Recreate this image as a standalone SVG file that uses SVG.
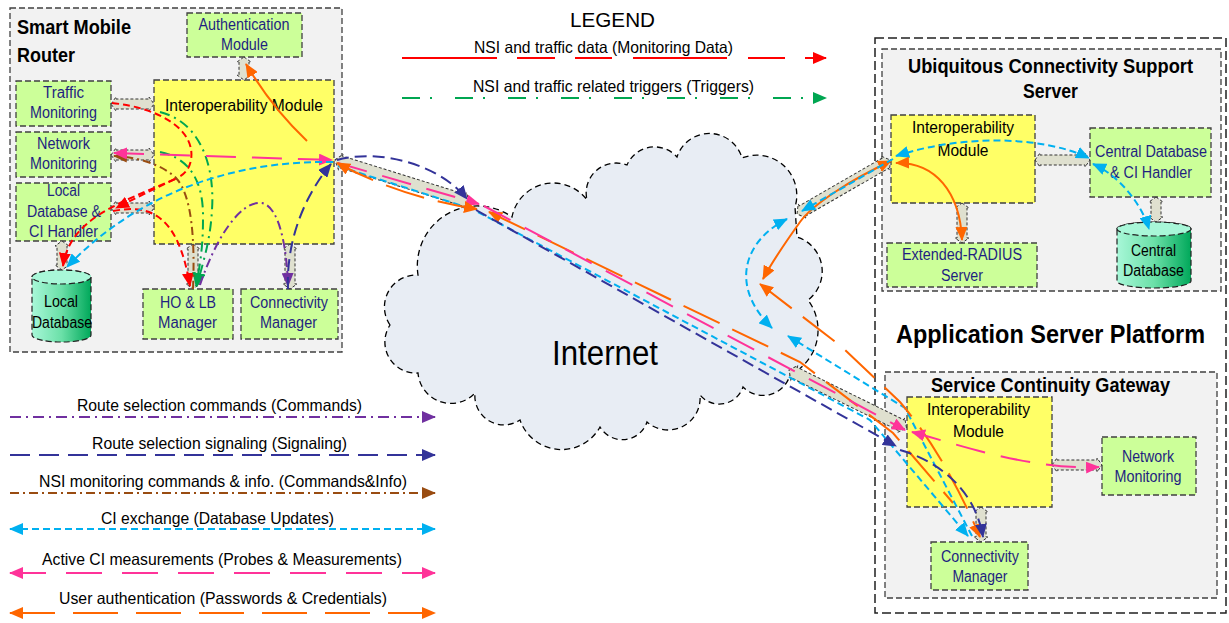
<svg xmlns="http://www.w3.org/2000/svg" width="1229" height="623" viewBox="0 0 1229 623">
<defs>
<style>
.frame{fill:#f2f2f2;stroke:#404040;stroke-width:1.3;stroke-dasharray:6 3}
.outer{fill:none;stroke:#202020;stroke-width:1.5;stroke-dasharray:9 4}
.mod{fill:#ccff99;stroke:#404040;stroke-width:1.3;stroke-dasharray:6 3}
.iop{fill:#ffff66;stroke:#404040;stroke-width:1.3;stroke-dasharray:6 3}
.db{stroke:#202020;stroke-width:1.2;stroke-dasharray:6 3}
.blk{fill:#dfe0cf;stroke:#333;stroke-width:1;stroke-dasharray:3 2}
.cloud{fill:#e8edf4;stroke:#000;stroke-width:1.3;stroke-dasharray:6 4}
text{font-family:"Liberation Sans",Arial,sans-serif}
.t{font-size:16px;fill:#1f1f80;text-anchor:middle}
.tk{font-size:16px;fill:#000;text-anchor:middle}
.ti{font-size:17px;fill:#000;text-anchor:middle}
.h{font-weight:bold;fill:#000;font-size:20px}
.lg{font-size:16.5px;fill:#000;text-anchor:middle}
.c{fill:none;stroke-width:2}
.red{stroke:#ff0000;stroke-dasharray:7 4}
.grn{stroke:#00a651;stroke-dasharray:10 5 2 5}
.pur{stroke:#7030a0;stroke-dasharray:9 4 2 4}
.nav{stroke:#333399;stroke-dasharray:12 6}
.brn{stroke:#994c11;stroke-dasharray:8 4 2 4}
.cyn{stroke:#00b0f0;stroke-dasharray:7 4}
.pnk{stroke:#ff3399;stroke-dasharray:30 16}
.org{stroke:#ff6600;stroke-dasharray:40 14}
.orgs{stroke:#ff6600}
</style>
<linearGradient id="cyl" x1="0" y1="0" x2="1" y2="0">
<stop offset="0" stop-color="#a8f7d8"/>
<stop offset="0.5" stop-color="#6be0a8"/>
<stop offset="1" stop-color="#00a85a"/>
</linearGradient>
<marker id="mr" viewBox="0 0 14 12" refX="13" refY="6" markerWidth="14" markerHeight="12" markerUnits="userSpaceOnUse" orient="auto-start-reverse"><path d="M0,0 L14,6 L0,12 Z" fill="#ff0000"/></marker>
<marker id="mg" viewBox="0 0 14 12" refX="13" refY="6" markerWidth="14" markerHeight="12" markerUnits="userSpaceOnUse" orient="auto-start-reverse"><path d="M0,0 L14,6 L0,12 Z" fill="#00a651"/></marker>
<marker id="mp" viewBox="0 0 14 12" refX="13" refY="6" markerWidth="14" markerHeight="12" markerUnits="userSpaceOnUse" orient="auto-start-reverse"><path d="M0,0 L14,6 L0,12 Z" fill="#7030a0"/></marker>
<marker id="mn" viewBox="0 0 14 12" refX="13" refY="6" markerWidth="14" markerHeight="12" markerUnits="userSpaceOnUse" orient="auto-start-reverse"><path d="M0,0 L14,6 L0,12 Z" fill="#333399"/></marker>
<marker id="mb" viewBox="0 0 14 12" refX="13" refY="6" markerWidth="14" markerHeight="12" markerUnits="userSpaceOnUse" orient="auto-start-reverse"><path d="M0,0 L14,6 L0,12 Z" fill="#994c11"/></marker>
<marker id="mc" viewBox="0 0 14 12" refX="13" refY="6" markerWidth="14" markerHeight="12" markerUnits="userSpaceOnUse" orient="auto-start-reverse"><path d="M0,0 L14,6 L0,12 Z" fill="#00b0f0"/></marker>
<marker id="mk" viewBox="0 0 14 12" refX="13" refY="6" markerWidth="14" markerHeight="12" markerUnits="userSpaceOnUse" orient="auto-start-reverse"><path d="M0,0 L14,6 L0,12 Z" fill="#ff3399"/></marker>
<marker id="mo" viewBox="0 0 14 12" refX="13" refY="6" markerWidth="14" markerHeight="12" markerUnits="userSpaceOnUse" orient="auto-start-reverse"><path d="M0,0 L14,6 L0,12 Z" fill="#ff6600"/></marker>
</defs>

<rect width="1229" height="623" fill="#ffffff"/>

<!-- Smart Mobile Router -->
<g id="smart-mobile-router">
<rect class="frame" x="10" y="8" width="332" height="344"/>
<text class="h" x="17" y="34" textLength="114" lengthAdjust="spacingAndGlyphs">Smart Mobile</text>
<text class="h" x="17" y="62" textLength="58" lengthAdjust="spacingAndGlyphs">Router</text>
</g>
<g id="smr-auth">
<rect class="mod" x="187" y="13" width="115" height="44"/>
<text class="t" x="244" y="30" textLength="91" lengthAdjust="spacingAndGlyphs">Authentication</text>
<text class="t" x="244.5" y="50" textLength="47" lengthAdjust="spacingAndGlyphs">Module</text>
</g>
<g id="smr-traffic">
<rect class="mod" x="16" y="81" width="95" height="45"/>
<text class="t" x="63.5" y="98" textLength="41" lengthAdjust="spacingAndGlyphs">Traffic</text>
<text class="t" x="63.5" y="118" textLength="67" lengthAdjust="spacingAndGlyphs">Monitoring</text>
</g>
<g id="smr-network">
<rect class="mod" x="16" y="132" width="95" height="45"/>
<text class="t" x="63.5" y="149" textLength="53" lengthAdjust="spacingAndGlyphs">Network</text>
<text class="t" x="63.5" y="169" textLength="67" lengthAdjust="spacingAndGlyphs">Monitoring</text>
</g>
<g id="smr-ldbh">
<rect class="mod" x="16" y="183" width="95" height="58"/>
<text class="t" x="63.5" y="196" textLength="33" lengthAdjust="spacingAndGlyphs">Local</text>
<text class="t" x="64" y="217" textLength="74" lengthAdjust="spacingAndGlyphs">Database &amp;</text>
<text class="t" x="63.5" y="237" textLength="69" lengthAdjust="spacingAndGlyphs">CI Handler</text>
</g>
<g id="smr-interop">
<rect class="iop" x="154" y="80" width="180" height="164"/>
<text class="ti" x="244" y="111" textLength="158" lengthAdjust="spacingAndGlyphs">Interoperability Module</text>
</g>
<g id="smr-localdb">
<path class="db" fill="url(#cyl)" d="M32 277 A29.5 7 0 0 1 91 277 L91 335 A29.5 7 0 0 1 32 335 Z"/>
<ellipse class="db" cx="61.5" cy="277" rx="29.5" ry="7" fill="#a8f7d8"/>
<text class="tk" x="61" y="307" textLength="34" lengthAdjust="spacingAndGlyphs">Local</text>
<text class="tk" x="62" y="328" textLength="60" lengthAdjust="spacingAndGlyphs">Database</text>
</g>
<g id="smr-holb">
<rect class="mod" x="143" y="289" width="90" height="50"/>
<text class="t" x="188" y="308" textLength="56" lengthAdjust="spacingAndGlyphs">HO &amp; LB</text>
<text class="t" x="187.5" y="328" textLength="59" lengthAdjust="spacingAndGlyphs">Manager</text>
</g>
<g id="smr-connmgr">
<rect class="mod" x="241" y="289" width="97" height="50"/>
<text class="t" x="289" y="308" textLength="78" lengthAdjust="spacingAndGlyphs">Connectivity</text>
<text class="t" x="288.5" y="328" textLength="57" lengthAdjust="spacingAndGlyphs">Manager</text>
</g>

<!-- Application Server Platform -->
<g id="app-server-platform">
<rect class="outer" x="875" y="38" width="351" height="575"/>
<text class="h" x="1050.5" y="343" font-size="25" style="font-size:25px" text-anchor="middle" textLength="309" lengthAdjust="spacingAndGlyphs">Application Server Platform</text>
</g>
<g id="ucss">
<rect class="frame" x="882" y="49" width="339" height="242"/>
<text class="h" x="1050.5" y="73" text-anchor="middle" textLength="285" lengthAdjust="spacingAndGlyphs">Ubiquitous Connectivity Support</text>
<text class="h" x="1050.5" y="98" text-anchor="middle" textLength="55" lengthAdjust="spacingAndGlyphs">Server</text>
</g>
<g id="ucss-interop">
<rect class="iop" x="891" y="115" width="144" height="88"/>
<text class="ti" x="963" y="133" textLength="102" lengthAdjust="spacingAndGlyphs">Interoperability</text>
<text class="ti" x="963" y="156" textLength="51" lengthAdjust="spacingAndGlyphs">Module</text>
</g>
<g id="ucss-cdbh">
<rect class="mod" x="1090" y="128" width="121" height="69"/>
<text class="t" x="1151" y="157" textLength="112" lengthAdjust="spacingAndGlyphs">Central Database</text>
<text class="t" x="1151" y="178" textLength="82" lengthAdjust="spacingAndGlyphs">&amp; CI Handler</text>
</g>
<g id="ucss-radius">
<rect class="mod" x="887" y="243" width="150" height="44"/>
<text class="t" x="962" y="260" textLength="120" lengthAdjust="spacingAndGlyphs">Extended-RADIUS</text>
<text class="t" x="962" y="281" textLength="42" lengthAdjust="spacingAndGlyphs">Server</text>
</g>
<g id="ucss-centraldb">
<path class="db" fill="url(#cyl)" d="M1117 229 A37 7 0 0 1 1191 229 L1191 281 A37 7 0 0 1 1117 281 Z"/>
<ellipse class="db" cx="1154" cy="229" rx="37" ry="7" fill="#a8f7d8"/>
<text class="tk" x="1153.5" y="256" textLength="45" lengthAdjust="spacingAndGlyphs">Central</text>
<text class="tk" x="1153.5" y="276" textLength="61" lengthAdjust="spacingAndGlyphs">Database</text>
</g>
<g id="scg">
<rect class="frame" x="885" y="372" width="332" height="226"/>
<text class="h" x="1050.5" y="392" text-anchor="middle" textLength="239" lengthAdjust="spacingAndGlyphs">Service Continuity Gateway</text>
</g>
<g id="scg-interop">
<rect class="iop" x="907" y="397" width="145" height="110"/>
<text class="ti" x="978.5" y="415" textLength="103" lengthAdjust="spacingAndGlyphs">Interoperability</text>
<text class="ti" x="978.5" y="437" textLength="51" lengthAdjust="spacingAndGlyphs">Module</text>
</g>
<g id="scg-netmon">
<rect class="mod" x="1102" y="437" width="94" height="58"/>
<text class="t" x="1148" y="462" textLength="52" lengthAdjust="spacingAndGlyphs">Network</text>
<text class="t" x="1148" y="482" textLength="67" lengthAdjust="spacingAndGlyphs">Monitoring</text>
</g>
<g id="scg-connmgr">
<rect class="mod" x="931" y="542" width="97" height="48"/>
<text class="t" x="980" y="562" textLength="78" lengthAdjust="spacingAndGlyphs">Connectivity</text>
<text class="t" x="980" y="582" textLength="55" lengthAdjust="spacingAndGlyphs">Manager</text>
</g>

<!-- Internet cloud -->
<g id="internet">
<path class="cloud" d="M390 325 A32 32 0 0 1 418 275 A60 60 0 0 1 512 217 A42 42 0 0 1 587 200 A30 30 0 0 1 627 165 A30 30 0 0 1 677 157 A34 34 0 0 1 742 158 A40 40 0 0 1 795 207 L797 237 A36 36 0 0 1 808 300 A50 50 0 0 1 790 375 A28 28 0 0 1 743 387 A25 25 0 0 1 700 395 A32 32 0 0 1 647 422 A26 26 0 0 1 600 427 A44 44 0 0 1 520 420 A29 29 0 0 1 475 393 A33 33 0 0 1 418 373 A31 31 0 0 1 390 325 Z"/>
<text x="605" y="365" font-size="35" text-anchor="middle" fill="#000" textLength="106" lengthAdjust="spacingAndGlyphs">Internet</text>
</g>

<!-- Interfaces (block arrows) -->
<g id="interfaces">
<polygon class="blk" points="111,104 116,97 116,99 149,99 149,97 154,104 149,111 149,109 116,109 116,111"/>
<polygon class="blk" points="111,155 116,148 116,150 149,150 149,148 154,155 149,162 149,160 116,160 116,162"/>
<polygon class="blk" points="111,208 116,201 116,203 149,203 149,201 154,208 149,215 149,213 116,213 116,215"/>
<polygon class="blk" points="1035,160 1040,153 1040,155 1085,155 1085,153 1090,160 1085,167 1085,165 1040,165 1040,167"/>
<polygon class="blk" points="1052,465 1057,458 1057,460 1097,460 1097,458 1102,465 1097,472 1097,470 1057,470 1057,472"/>
<polygon class="blk" points="244,57 251,62 249,62 249,75 251,75 244,80 237,75 239,75 239,62 237,62"/>
<polygon class="blk" points="62,241 69,246 67,246 67,265 69,265 62,270 55,265 57,265 57,246 55,246"/>
<polygon class="blk" points="193,244 200,249 198,249 198,284 200,284 193,289 186,284 188,284 188,249 186,249"/>
<polygon class="blk" points="290,244 297,249 295,249 295,284 297,284 290,289 283,284 285,284 285,249 283,249"/>
<polygon class="blk" points="962,203 969,208 967,208 967,238 969,238 962,243 955,238 957,238 957,208 955,208"/>
<polygon class="blk" points="1156,197 1163,202 1161,202 1161,217 1163,217 1156,222 1149,217 1151,217 1151,202 1149,202"/>
<polygon class="blk" points="981,507 988,512 986,512 986,537 988,537 981,542 974,537 976,537 976,512 974,512"/>
<g transform="translate(335,160) rotate(17.3)"><polygon class="blk" points="0,0 6,-8 6,-6 135,-6 135,-8 141,0 135,8 135,6 6,6 6,8"/></g>
<g transform="translate(797,214) rotate(-29.9)"><polygon class="blk" points="0,0 6,-8 6,-6 102,-6 102,-8 108,0 102,8 102,6 6,6 6,8"/></g>
<g transform="translate(789,370) rotate(26.2)"><polygon class="blk" points="0,0 6,-8 6,-6 125,-6 125,-8 131,0 125,8 125,6 6,6 6,8"/></g>
</g>

<!-- Legends -->
<g id="legend-top">
<text x="612.5" y="27" font-size="21" text-anchor="middle" fill="#000" textLength="85" lengthAdjust="spacingAndGlyphs">LEGEND</text>
<text class="lg" x="603.5" y="53" textLength="259" lengthAdjust="spacingAndGlyphs">NSI and traffic data (Monitoring Data)</text>
<path class="c" stroke="#ff0000" stroke-dasharray="95 20 38 20 37 21 94 21 37 20 40" d="M402 58 L826 58" marker-end="url(#mr)"/>
<text class="lg" x="613.5" y="92" textLength="281" lengthAdjust="spacingAndGlyphs">NSI and traffic related triggers (Triggers)</text>
<path class="c" stroke="#00a651" stroke-dasharray="18 10 2 23" d="M402 98 L826 98" marker-end="url(#mg)"/>
</g>
<g id="legend-bottom">
<text class="lg" x="219.5" y="411" textLength="285" lengthAdjust="spacingAndGlyphs">Route selection commands (Commands)</text>
<path class="c" stroke="#7030a0" stroke-dasharray="11 5 2 5" d="M10 417 L435 417" marker-end="url(#mp)"/>
<text class="lg" x="219.5" y="449" textLength="255" lengthAdjust="spacingAndGlyphs">Route selection signaling (Signaling)</text>
<path class="c" stroke="#333399" stroke-dasharray="20 9" d="M10 455 L435 455" marker-end="url(#mn)"/>
<text class="lg" x="223" y="487" textLength="368" lengthAdjust="spacingAndGlyphs">NSI monitoring commands &amp; info. (Commands&amp;Info)</text>
<path class="c" stroke="#994c11" stroke-dasharray="9 4 2 4" d="M10 493 L435 493" marker-end="url(#mb)"/>
<text class="lg" x="217.5" y="524" textLength="233" lengthAdjust="spacingAndGlyphs">CI exchange (Database Updates)</text>
<path class="c" stroke="#00b0f0" stroke-dasharray="7 4" d="M10 529 L435 529" marker-start="url(#mc)" marker-end="url(#mc)"/>
<text class="lg" x="222" y="565" textLength="360" lengthAdjust="spacingAndGlyphs">Active CI measurements (Probes &amp; Measurements)</text>
<path class="c" stroke="#ff3399" stroke-dasharray="36 20" d="M10 573 L435 573" marker-start="url(#mk)" marker-end="url(#mk)"/>
<text class="lg" x="223" y="604" textLength="328" lengthAdjust="spacingAndGlyphs">User authentication (Passwords &amp; Credentials)</text>
<path class="c" stroke="#ff6600" stroke-dasharray="45 18" d="M10 613 L435 613" marker-start="url(#mo)" marker-end="url(#mo)"/>
</g>

<!-- Connectors -->
<g id="connectors">
<!-- Smart Mobile Router internal -->
<path class="c orgs" d="M307 141 Q272 108 246 64" marker-end="url(#mo)"/>
<path class="c red" d="M112 103 C160 108 196 130 191 160 C189 171 182 176 175 179"/>
<path class="c red" d="M175 179 C152 190 132 200 116 208" marker-end="url(#mr)"/>
<path class="c red" d="M175 179 C120 203 70 218 63 266" marker-end="url(#mr)"/>
<path class="c red" d="M113 211 C150 204 178 214 190 286" marker-end="url(#mr)"/>
<path class="c grn" d="M160 112 C200 122 215 165 212 210 C210 245 201 268 197 286" marker-end="url(#mg)"/>
<path class="c grn" d="M160 152 C190 158 204 182 203 220 C203 250 199 270 196 286" marker-end="url(#mg)"/>
<path class="c brn" d="M193 289 C195 240 192 195 176 178 C160 163 135 157 114 156" marker-end="url(#mb)"/>
<path class="c pur" d="M200 285 C215 240 240 200 262 203 C280 207 287 250 288 286" marker-end="url(#mp)"/>
<path class="c nav" d="M288 289 C286 240 305 195 331 164" marker-end="url(#mn)"/>
<path class="c pnk" d="M114 153 L332 160" marker-start="url(#mk)" marker-end="url(#mk)"/>
<path class="c cyn" d="M333 162 C240 160 140 190 67 267" marker-end="url(#mc)"/>
<!-- SMR to cloud -->
<path class="c nav" d="M337 160 C380 148 440 165 467 199" marker-end="url(#mn)"/>
<path class="c pnk" d="M338 163 L479 204" marker-end="url(#mk)"/>
<path class="c cyn" d="M338 166 L472 209"/>
<path class="c org" d="M337 163 Q400 197 477 209" marker-start="url(#mo)" marker-end="url(#mo)"/>
<!-- cloud to SCG -->
<path class="c org" d="M489 212 L800 362 L893 433 L953 503" marker-start="url(#mo)"/>
<path class="c pnk" d="M484 206 L905 430" marker-end="url(#mk)"/>
<path class="c cyn" d="M478 212 L870 420 L968 536" marker-end="url(#mc)"/>
<path class="c nav" d="M476 210 L896 446" marker-end="url(#mn)"/>
<!-- cloud right side -->
<path class="c cyn" d="M787 219 C745 240 728 285 772 328" marker-start="url(#mc)" marker-end="url(#mc)"/>
<path class="c cyn" d="M788 336 L905 408 L972 536" marker-start="url(#mc)"/>
<path class="c org" d="M760 284 L842 347 L900 402 Q945 455 980 537" marker-start="url(#mo)" marker-end="url(#mo)"/>
<!-- UCSS -->
<path class="c orgs" d="M891 161 C850 180 812 205 800 222 C785 243 772 262 763 279" marker-start="url(#mo)" marker-end="url(#mo)"/>
<path class="c cyn" d="M893 159 L802 211" marker-end="url(#mc)"/>
<path class="c cyn" d="M896 156 C960 135 1040 135 1089 158" marker-start="url(#mc)" marker-end="url(#mc)"/>
<path class="c cyn" d="M1093 164 C1120 176 1142 205 1149 229" marker-start="url(#mc)" marker-end="url(#mc)"/>
<path class="c orgs" d="M896 163 C935 162 960 192 962 240" marker-start="url(#mo)" marker-end="url(#mo)"/>
<!-- SCG -->
<path class="c pnk" d="M912 432 C960 445 1030 470 1099 467" marker-start="url(#mk)" marker-end="url(#mk)"/>
<path class="c nav" d="M900 450 C940 462 975 490 983 537" marker-end="url(#mn)"/>
</g>
</svg>
